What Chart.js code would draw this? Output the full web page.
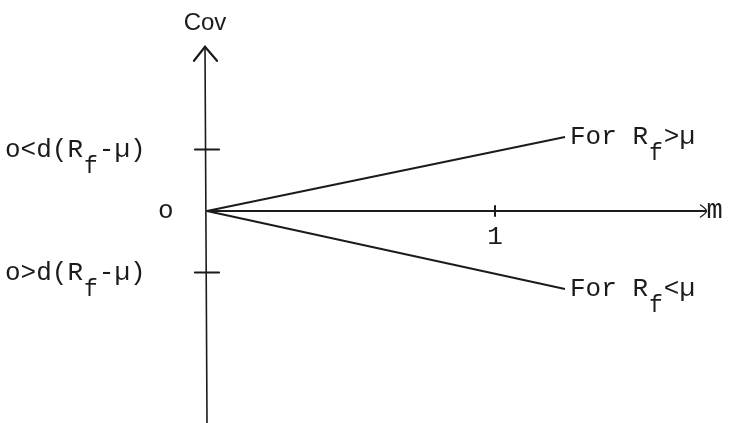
<!DOCTYPE html>
<html>
<head>
<meta charset="utf-8">
<script src="https://cdn.jsdelivr.net/npm/chart.js@4"></script>
<style>
html,body{margin:0;padding:0;background:#fff;}
canvas{display:block;}
</style>
</head>
<body>
<canvas id="c" width="730" height="423"></canvas>
<script>
// ---- data ----
const mValues = [0, 1.243];          // m at start / end of the two lines
const covRfAbove = [0, 1.203];       // For R_f > mu
const covRfBelow = [0, -1.268];      // For R_f < mu
const xTicks = [1];
const xTickLabels = ['1'];
const yTicks = [1, -1];
const yTickLabels = [
  [{t:'o<d(R'},{t:'f',sub:true},{t:'-\u00b5)'}],
  [{t:'o>d(R'},{t:'f',sub:true},{t:'-\u00b5)'}]
];
const lineLabels = [
  [{t:'For R'},{t:'f',sub:true},{t:'>\u00b5'}],
  [{t:'For R'},{t:'f',sub:true},{t:'<\u00b5'}]
];
const xAxisEnd = 1.71;
const yAxisTop = 2.67;
const xMin = -0.71875, xMax = 1.816;
const yMin = -3.447, yMax = 3.431;

const INK = '#1b1b1b';
const MONO = '"Liberation Mono", "DejaVu Sans Mono", monospace';

function drawParts(ctx, x, y, parts, size, subSize, subDrop) {
  let cx = x;
  for (const p of parts) {
    if (p.sub) {
      ctx.font = subSize + 'px ' + MONO;
      cx += 1;
      ctx.fillText(p.t, cx, y + subDrop);
      cx += ctx.measureText(p.t).width + 1;
    } else {
      ctx.font = size + 'px ' + MONO;
      ctx.fillText(p.t, cx, y);
      cx += ctx.measureText(p.t).width;
    }
  }
}

const decor = {
  id: 'decor',
  beforeDatasetsDraw(chart) {
    const ctx = chart.ctx;
    const xs = chart.scales.x, ys = chart.scales.y;
    const ox = xs.getPixelForValue(0), oy = ys.getPixelForValue(0);
    ctx.save();
    ctx.strokeStyle = INK;
    ctx.fillStyle = INK;
    ctx.lineWidth = 1.6;
    ctx.lineCap = 'round';
    // y axis
    const yt = ys.getPixelForValue(yAxisTop);
    ctx.beginPath();
    ctx.moveTo(ox, ys.getPixelForValue(yMin));
    ctx.lineTo(ox - 2, yt);
    ctx.stroke();
    ctx.lineWidth = 2.2;
    ctx.beginPath();
    ctx.moveTo(ox - 13, yt + 14);
    ctx.lineTo(ox - 2, yt);
    ctx.lineTo(ox + 10, yt + 14);
    ctx.stroke();
    // x axis
    ctx.lineWidth = 1.8;
    const xe = xs.getPixelForValue(xAxisEnd);
    ctx.beginPath();
    ctx.moveTo(ox, oy);
    ctx.lineTo(xe + 6, oy);
    ctx.stroke();
    ctx.lineWidth = 1.4;
    ctx.beginPath();
    ctx.moveTo(xe + 1, oy - 6);
    ctx.quadraticCurveTo(xe + 7, oy - 2, xe + 7, oy);
    ctx.quadraticCurveTo(xe + 7, oy + 2, xe + 1, oy + 6);
    ctx.stroke();
    ctx.font = '27px ' + MONO;
    ctx.textBaseline = 'alphabetic';
    ctx.textAlign = 'left';
    ctx.fillText('m', xe + 7, oy + 7);
    // x ticks
    ctx.lineWidth = 2;
    xTicks.forEach((v, i) => {
      const px = xs.getPixelForValue(v);
      ctx.beginPath();
      ctx.moveTo(px, oy - 5);
      ctx.lineTo(px, oy + 5);
      ctx.stroke();
      ctx.font = '26px ' + MONO;
      ctx.textAlign = 'center';
      ctx.fillText(xTickLabels[i], px, oy + 33);
    });
    // y ticks
    ctx.textAlign = 'left';
    yTicks.forEach((v, i) => {
      const py = ys.getPixelForValue(v);
      ctx.lineWidth = 2.2;
      ctx.beginPath();
      ctx.moveTo(ox - 12, py);
      ctx.lineTo(ox + 12, py);
      ctx.stroke();
      drawParts(ctx, 5, py + 7, yTickLabels[i], 26, 23, 16);
    });
    // origin label
    ctx.font = '26px ' + MONO;
    ctx.fillText('o', ox - 49, oy + 7);
    // axis title
    ctx.font = '24px "Liberation Sans", Arial, sans-serif';
    ctx.textAlign = 'center';
    ctx.fillText('Cov', ox - 2, yt - 17);
    ctx.restore();
  },
  afterDatasetsDraw(chart) {
    const ctx = chart.ctx;
    const xs = chart.scales.x, ys = chart.scales.y;
    ctx.save();
    ctx.fillStyle = INK;
    ctx.textAlign = 'left';
    ctx.textBaseline = 'alphabetic';
    const ends = [covRfAbove[1], covRfBelow[1]];
    ends.forEach((v, i) => {
      const px = xs.getPixelForValue(mValues[1]);
      const py = ys.getPixelForValue(v);
      drawParts(ctx, px + 5, py + 7, lineLabels[i], 26, 23, 16);
    });
    ctx.restore();
  }
};

new Chart(document.getElementById('c'), {
  type: 'scatter',
  data: {
    datasets: [
      { data: mValues.map((m, i) => ({x: m, y: covRfAbove[i]})), showLine: true,
        borderColor: INK, borderWidth: 2, pointRadius: 0 },
      { data: mValues.map((m, i) => ({x: m, y: covRfBelow[i]})), showLine: true,
        borderColor: INK, borderWidth: 2, pointRadius: 0 }
    ]
  },
  options: {
    responsive: false,
    animation: false,
    events: [],
    layout: { padding: 0 },
    plugins: { legend: { display: false }, tooltip: { enabled: false } },
    scales: {
      x: { type: 'linear', min: xMin, max: xMax, display: false },
      y: { type: 'linear', min: yMin, max: yMax, display: false }
    }
  },
  plugins: [decor]
});
</script>
</body>
</html>
